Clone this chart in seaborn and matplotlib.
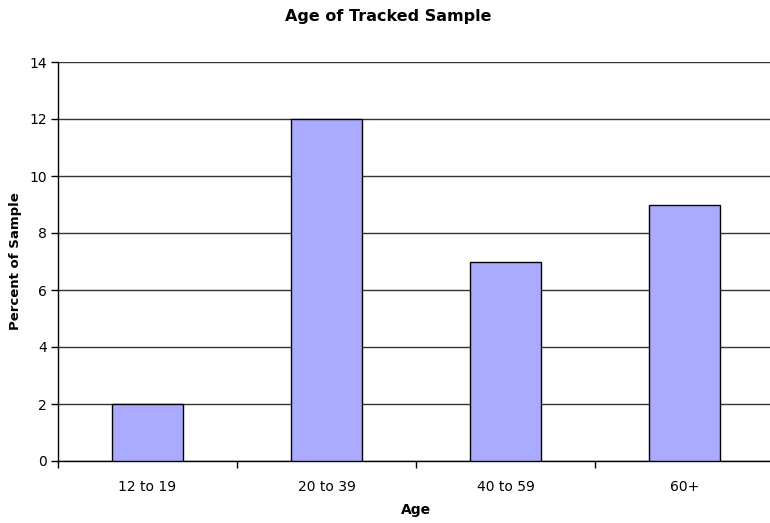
import matplotlib
matplotlib.use("Agg")
import matplotlib.pyplot as plt
import seaborn as sns
import pandas as pd
import numpy as np
from matplotlib.ticker import FixedLocator

categories = ["12 to 19", "20 to 39", "40 to 59", "60+"]
values = [2, 12, 7, 9]
yticks = [0, 2, 4, 6, 8, 10, 12, 14]

sns.set_style("white")
plt.rcParams['font.family'] = ['DejaVu Sans']
plt.rcParams['text.color'] = 'black'
plt.rcParams['axes.labelcolor'] = 'black'
plt.rcParams['xtick.color'] = 'black'
plt.rcParams['ytick.color'] = 'black'

df = pd.DataFrame({"Age": categories, "Percent": values})

fig = plt.figure(figsize=(7.7, 5.23), dpi=100)
ax = fig.add_axes([58/770, 1-461/523, (774-58)/770, (461-62)/523])

sns.barplot(data=df, x="Age", y="Percent", color="#AAAAFF", saturation=1,
            width=0.40, edgecolor="black", linewidth=1, ax=ax, zorder=3)

ax.set_xlim(-0.5, len(categories) - 0.5)
ax.set_ylim(0, 14)
ax.set_yticks(yticks)
ax.yaxis.grid(True, color="#333333", linewidth=1)
ax.set_axisbelow(True)
for s in ["top", "right"]:
    ax.spines[s].set_visible(False)
for s in ["left", "bottom"]:
    ax.spines[s].set_color("black")
    ax.spines[s].set_linewidth(1)

ax.tick_params(axis="y", which="major", direction="out", length=5, width=1,
               color="black", labelsize=10, left=True, pad=3)
ax.tick_params(axis="x", which="major", length=0, labelsize=10, pad=14)
ax.xaxis.set_minor_locator(FixedLocator(np.arange(-0.5, len(categories), 1.0)))
ax.tick_params(axis="x", which="minor", direction="out", length=5, width=1,
               color="black", bottom=True)

ax.set_xlabel("Age", fontsize=10, fontweight="bold", labelpad=6)
ax.set_ylabel("Percent of Sample", fontsize=9.5, fontweight="bold", labelpad=5)
fig.suptitle("Age of Tracked Sample", x=0.504, y=1-17/523, fontsize=11.5,
             fontweight="bold", va="center")

fig.savefig("out.png", dpi=100)
